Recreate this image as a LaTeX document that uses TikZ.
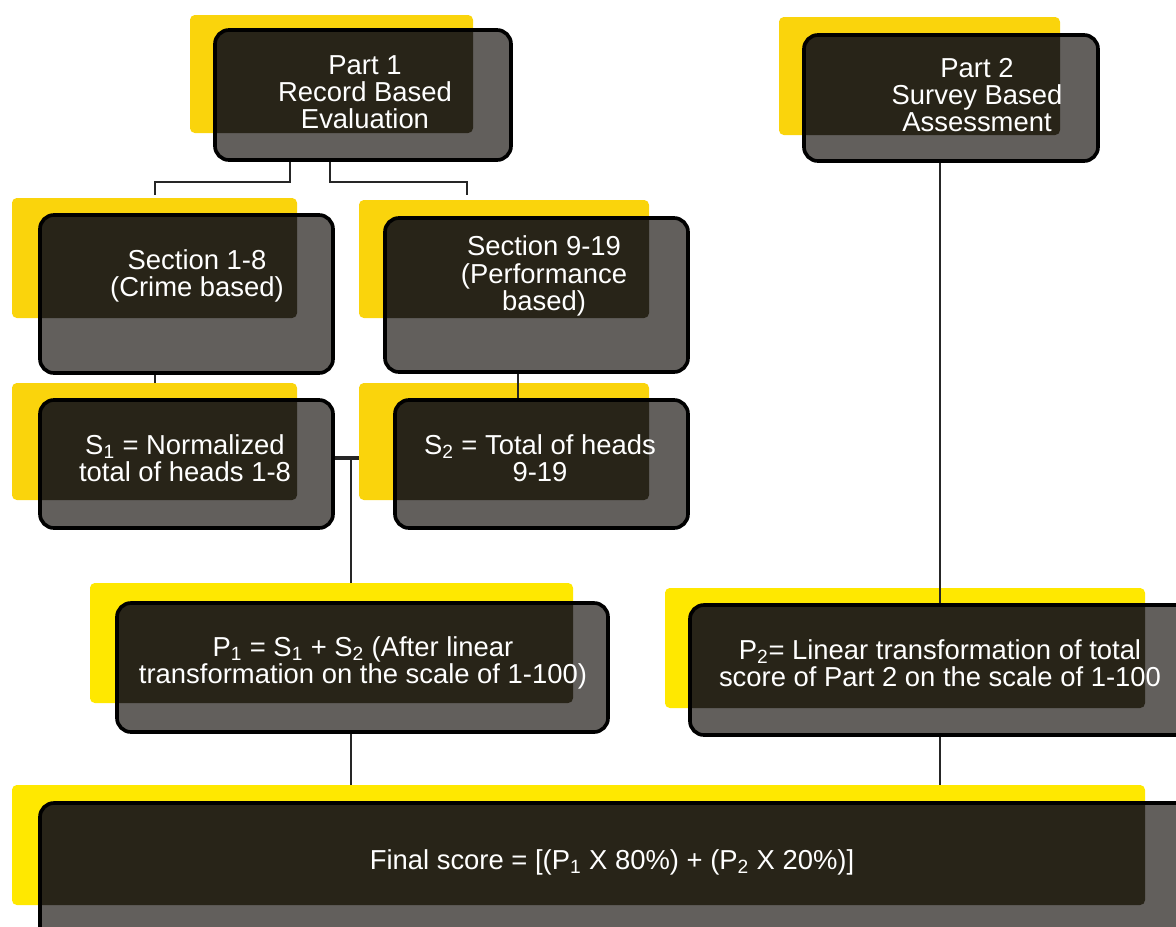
\documentclass[tikz,border=0pt]{standalone}
\usepackage{fontspec}
\setmainfont{Liberation Sans}
\usetikzlibrary{fit}
\definecolor{goldback}{RGB}{250,212,12}
\definecolor{lemonback}{RGB}{255,232,0}
\definecolor{boxgrey}{RGB}{98,95,92}
\definecolor{boxdark}{RGB}{40,36,24}

\begin{document}
\begin{tikzpicture}[x=.25mm,y=-.25mm,
    back/.style={fill=#1,rounded corners=1.2mm,inner sep=0pt,outer sep=0pt},
    stage/.style={draw=black,line width=2.6pt,rounded corners=3.5mm,fill=boxgrey,
      inner sep=0pt,path picture={\fill[boxdark,rounded corners=1.2mm]
        (#1.north west) rectangle (#1.south east);}},
    caption/.style={text=white,align=center,font=\fontsize{19.5}{19.4}\selectfont},
    link/.style={draw=black!85,line width=1.1pt}]
  \useasboundingbox (0,0) rectangle (1176,926);
  \clip (0,0) rectangle (1176,926);
  % yellow backs
  \node[back=goldback,fit={(190,15) (473,133)}] (part1y) {};
  \node[back=goldback,fit={(779,17) (1060,135)}] (part2y) {};
  \node[back=goldback,fit={(12,198) (297,318)}] (sec1y) {};
  \node[back=goldback,fit={(359,200) (649,318)}] (sec2y) {};
  \node[back=goldback,fit={(12,383) (297,500)}] (s1y) {};
  \node[back=goldback,fit={(359,383) (649,500)}] (s2y) {};
  \node[back=lemonback,fit={(90,583) (573,703)}] (p1y) {};
  \node[back=lemonback,fit={(665,588) (1145,708)}] (p2y) {};
  \node[back=lemonback,fit={(12,785) (1145,905)}] (finaly) {};
  % dark boxes
  \node[stage=part1y,fit={(215,30) (511,160)}] (part1) {};
  \node[stage=part2y,fit={(804,35) (1098,161)}] (part2) {};
  \node[stage=sec1y,fit={(40,215) (333,373)}] (sec1) {};
  \node[stage=sec2y,fit={(385,218) (688,372)}] (sec2) {};
  \node[stage=s1y,fit={(40,400) (333,528)}] (s1) {};
  \node[stage=s2y,fit={(395,400) (688,528)}] (s2) {};
  \node[stage=p1y,fit={(117,603) (608,732)}] (p1) {};
  \node[stage=p2y,fit={(690,605) (1200,735)}] (p2) {};
  \node[stage=finaly,fit={(40,803) (1210,960)}] (final) {};
  % texts
  \node[caption] (part1t) at (365,92) {Part 1\\Record Based\\Evaluation};
  \node[caption] (part2t) at (977,95) {Part 2\\Survey Based\\Assessment};
  \node[caption] (sec1t) at (197,276) {Section 1-8\\(Crime based)};
  \node[caption] (sec2t) at (544,276) {Section 9-19\\(Performance\\based)};
  \node[caption] (s1t) at (185,458) {S\textsubscript{1} = Normalized\\total of heads 1-8};
  \node[caption] (s2t) at (540,458) {S\textsubscript{2} = Total of heads\\9-19};
  \node[caption] (p1t) at (363,663)
    {P\textsubscript{1} = S\textsubscript{1} + S\textsubscript{2} (After linear\\transformation on the scale of 1-100)};
  \node[caption] (p2t) at (940,663)
    {P\textsubscript{2}= Linear transformation of total\\score of Part 2 on the scale of 1-100};
  \node[caption] (finalt) at (612,862)
    {Final score = [(P\textsubscript{1} X 80\%) + (P\textsubscript{2} X 20\%)]};
  % connectors
  \coordinate (tapL) at (290,182);
  \coordinate (tapR) at (330,182);
  \coordinate (sec1in) at (155,195);
  \coordinate (sec2in) at (467,195);
  \coordinate (s2tap) at (518,0);
  \coordinate (join) at (351,458);
  \coordinate (p2tap) at (940,0);
  \draw[link] (tapL |- part1.south) -- (tapL) -| (sec1in);
  \draw[link] (tapR |- part1.south) -- (tapR) -| (sec2in);
  \draw[link] (sec1.south -| sec1in) -- (s1y.north -| sec1in);
  \draw[link] (sec2.south -| s2tap) -- (s2.north -| s2tap);
  \draw[link,line width=3.5pt] (s1.east |- join) -- (s2y.west |- join);
  \draw[link] (join) -- (p1y.north -| join);
  \draw[link] (p1.south -| join) -- (finaly.north -| join);
  \draw[link] (part2.south -| p2tap) -- (p2.north -| p2tap);
  \draw[link] (p2.south -| p2tap) -- (finaly.north -| p2tap);
\end{tikzpicture}
\end{document}
